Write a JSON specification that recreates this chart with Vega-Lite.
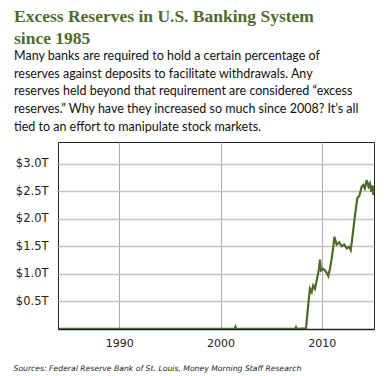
{
  "$schema": "https://vega.github.io/schema/vega-lite/v6.json",
  "width": 316,
  "height": 187,
  "autosize": {"type": "none"},
  "padding": {"left": 58, "top": 142, "right": 16, "bottom": 47},
  "background": "white",
  "title": {
    "text": ["Excess Reserves in U.S. Banking System", "since 1985"],
    "subtitle": [
      "Many banks are required to hold a certain percentage of",
      "reserves against deposits to facilitate withdrawals. Any",
      "reserves held beyond that requirement are considered “excess",
      "reserves.” Why have they increased so much since 2008? It’s all",
      "tied to an effort to manipulate stock markets."
    ],
    "anchor": "start",
    "frame": "group",
    "dx": -44,
    "offset": 9,
    "font": "Liberation Serif",
    "fontSize": 17.5,
    "fontWeight": "bold",
    "color": "#4e6b30",
    "lineHeight": 21.6,
    "subtitleFont": "Lato",
    "subtitleFontSize": 12.5,
    "subtitleColor": "#111111",
    "subtitleLineHeight": 17.5,
    "subtitlePadding": 3
  },
  "config": {
    "view": {"stroke": "#222222", "strokeWidth": 1}
  },
  "data": {
    "values": [
      {"year": 1984.0, "reserves": 0.002},
      {"year": 1990.0, "reserves": 0.002},
      {"year": 1995.0, "reserves": 0.002},
      {"year": 2001.4, "reserves": 0.003},
      {"year": 2001.48, "reserves": 0.04},
      {"year": 2001.56, "reserves": 0.003},
      {"year": 2007.38, "reserves": 0.003},
      {"year": 2007.46, "reserves": 0.035},
      {"year": 2007.54, "reserves": 0.003},
      {"year": 2008.45, "reserves": 0.01},
      {"year": 2008.68, "reserves": 0.46},
      {"year": 2008.84, "reserves": 0.73},
      {"year": 2009.01, "reserves": 0.67},
      {"year": 2009.17, "reserves": 0.79},
      {"year": 2009.34, "reserves": 0.73},
      {"year": 2009.57, "reserves": 0.94},
      {"year": 2009.73, "reserves": 1.09},
      {"year": 2009.83, "reserves": 1.26},
      {"year": 2009.93, "reserves": 1.06},
      {"year": 2010.16, "reserves": 1.09},
      {"year": 2010.4, "reserves": 1.05},
      {"year": 2010.65, "reserves": 0.96},
      {"year": 2010.82, "reserves": 1.09},
      {"year": 2010.99, "reserves": 1.28},
      {"year": 2011.15, "reserves": 1.49},
      {"year": 2011.25, "reserves": 1.67},
      {"year": 2011.48, "reserves": 1.53},
      {"year": 2011.74, "reserves": 1.57},
      {"year": 2011.98, "reserves": 1.5},
      {"year": 2012.23, "reserves": 1.53},
      {"year": 2012.47, "reserves": 1.46},
      {"year": 2012.7, "reserves": 1.49},
      {"year": 2012.87, "reserves": 1.43},
      {"year": 2013.06, "reserves": 1.7},
      {"year": 2013.29, "reserves": 2.06},
      {"year": 2013.52, "reserves": 2.37},
      {"year": 2013.72, "reserves": 2.41},
      {"year": 2013.95, "reserves": 2.58},
      {"year": 2014.11, "reserves": 2.61},
      {"year": 2014.26, "reserves": 2.55},
      {"year": 2014.45, "reserves": 2.7},
      {"year": 2014.63, "reserves": 2.58},
      {"year": 2014.77, "reserves": 2.64},
      {"year": 2014.9, "reserves": 2.49},
      {"year": 2015.04, "reserves": 2.6},
      {"year": 2015.1, "reserves": 2.43}
    ]
  },
  "mark": {"type": "line", "color": "#4b6b2a", "strokeWidth": 2.2, "clip": true},
  "encoding": {
    "x": {
      "field": "year",
      "type": "quantitative",
      "scale": {"domain": [1983.94, 2015.17], "nice": false, "zero": false},
      "axis": {
        "values": [1990, 2000, 2010],
        "format": "d",
        "grid": true,
        "gridColor": "#a8a8a8",
        "gridWidth": 1,
        "ticks": false,
        "domain": true,
        "domainColor": "#222222",
        "domainWidth": 1.5,
        "labelFont": "DejaVu Sans",
        "labelFontSize": 11,
        "labelColor": "#222222",
        "labelPadding": 8,
        "title": "Sources: Federal Reserve Bank of St. Louis, Money Morning Staff Research",
        "titleFont": "DejaVu Sans",
        "titleFontSize": 7.7,
        "titleFontStyle": "italic",
        "titleFontWeight": "normal",
        "titleColor": "#222222",
        "titleAnchor": "start",
        "titleAlign": "left",
        "titleBaseline": "alphabetic",
        "titleX": -45,
        "titleY": 41
      }
    },
    "y": {
      "field": "reserves",
      "type": "quantitative",
      "scale": {"domain": [0, 3.39], "nice": false},
      "axis": {
        "values": [0.5, 1, 1.5, 2, 2.5, 3],
        "labelExpr": "'$' + format(datum.value, '.1f') + 'T'",
        "grid": true,
        "gridColor": "#c4c4c4",
        "gridWidth": 1.3,
        "ticks": true,
        "tickSize": 2,
        "tickColor": "#c4c4c4",
        "domain": false,
        "labelFont": "DejaVu Sans",
        "labelFontSize": 11.5,
        "labelColor": "#222222",
        "labelPadding": 8,
        "title": null
      }
    }
  }
}
